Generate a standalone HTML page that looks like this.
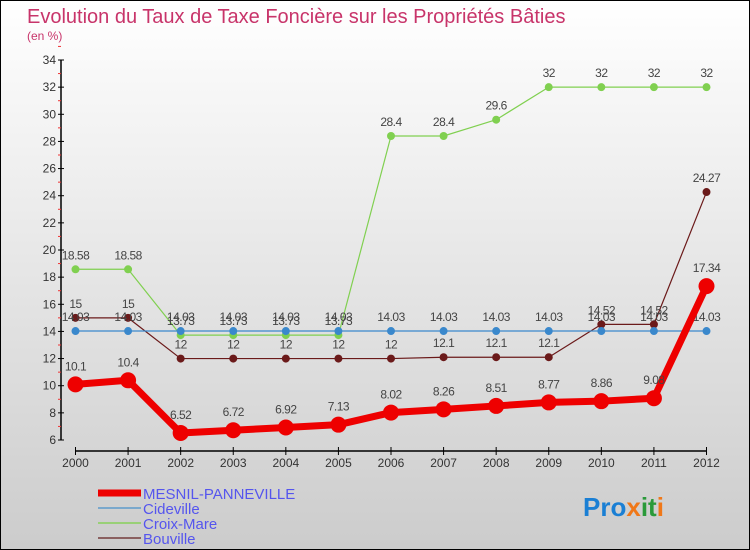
<!DOCTYPE html>
<html><head><meta charset="utf-8"><style>
body{margin:0}
#c{width:748px;height:548px;border:1px solid #000;background:linear-gradient(#ffffff,#cccccc);position:relative;overflow:hidden;font-family:"Liberation Sans",sans-serif}
</style></head><body>
<div id="c">
<svg id="s" width="748" height="548" style="position:absolute;left:0;top:0">
<text x="26" y="22" font-size="20" fill="#c8346a">Evolution du Taux de Taxe Foncière sur les Propriétés Bâties</text>
<text x="26" y="39" font-size="12" fill="#c8346a">(en %)</text>
<g id="axes"></g><g id="series"></g><g id="legend"></g>
<text x="582" y="515" font-size="26" font-weight="bold"><tspan fill="#1a7fd4">Pro</tspan><tspan fill="#f07818">x</tspan><tspan fill="#2a9a3a">it</tspan><tspan fill="#f07818">i</tspan></text>
</svg></div>
<script>
const years=[2000,2001,2002,2003,2004,2005,2006,2007,2008,2009,2010,2011,2012];
const yTicks=[6,8,10,12,14,16,18,20,22,24,26,28,30,32,34];
const mesnil=[10.1,10.4,6.52,6.72,6.92,7.13,8.02,8.26,8.51,8.77,8.86,9.08,17.34];
const cideville=[14.03,14.03,14.03,14.03,14.03,14.03,14.03,14.03,14.03,14.03,14.03,14.03,14.03];
const croix=[18.58,18.58,13.73,13.73,13.73,13.73,28.4,28.4,29.6,32,32,32,32];
const bouville=[15,15,12,12,12,12,12,12.1,12.1,12.1,14.52,14.52,24.27];
const NS="http://www.w3.org/2000/svg";
const X=i=>74.5+i*(705.5-74.5)/(years.length-1);
const Y=v=>439-(v-6)*(439-59)/(34-6);
function mk(t,a,p){const e=document.createElementNS(NS,t);for(const k in a)e.setAttribute(k,a[k]);p.appendChild(e);return e;}
const ax=document.getElementById('axes');
let yl=mk('line',{x1:60,y1:Y(34),x2:60,y2:Y(6),stroke:'#000','stroke-width':1.5},ax);

yTicks.forEach(v=>{
 mk('line',{x1:57,x2:63,y1:Y(v),y2:Y(v),stroke:'#000'},ax);
 mk('line',{x1:57,x2:60,y1:Y(v+1),y2:Y(v+1),stroke:'#e33'},ax);
 const t=mk('text',{x:55,y:Y(v)+4,'font-size':12,fill:'#333','text-anchor':'end'},ax);t.textContent=v;
 
});
let xl=mk('line',{x1:X(0),y1:450,x2:X(12),y2:450,stroke:'#000','stroke-width':1.5},ax);

years.forEach((y,i)=>{
 mk('line',{x1:X(i),x2:X(i),y1:446,y2:454,stroke:'#000'},ax);
 const t=mk('text',{x:X(i),y:466,'font-size':12,fill:'#333','text-anchor':'middle'},ax);t.textContent=y;
 
});
const sg=document.getElementById('series');
function series(d,col,w,r,name){
 const g=mk('g',{},sg);
 mk('polyline',{points:d.map((v,i)=>X(i)+','+Y(v)).join(' '),fill:'none',stroke:col,'stroke-width':w,'stroke-linejoin':'round'},g);
 d.forEach((v,i)=>{
  const c=mk('circle',{cx:X(i),cy:Y(v),r:r,fill:col},g);
  
  const t=mk('text',{x:X(i),y:Y(v)-r-6,'font-size':12,fill:'#444','text-anchor':'middle','letter-spacing':'-0.5'},g);
  t.textContent=v;
  
 });
}
series(bouville,'#6b1a1a',1.2,4,'bouville');
series(croix,'#80d050',1.2,4,'croix-mare');
series(cideville,'#3a88cc',1.2,4,'cideville');
series(mesnil,'#ee0000',7,8,'mesnil-panneville');
const lg=document.getElementById('legend');
[['MESNIL-PANNEVILLE','#ee0000',7],['Cideville','#7aa8cc',2],['Croix-Mare','#99d077',2],['Bouville','#8a6060',2]].forEach((e,i)=>{
 const y=492+i*15;
 const g=mk('g',{},lg);
 mk('line',{x1:97,x2:140,y1:y,y2:y,stroke:e[1],'stroke-width':e[2]},g);
 const t=mk('text',{x:142,y:y+6,'font-size':15,fill:'#5555ee'},g);t.textContent=e[0];
});
</script></body></html>
